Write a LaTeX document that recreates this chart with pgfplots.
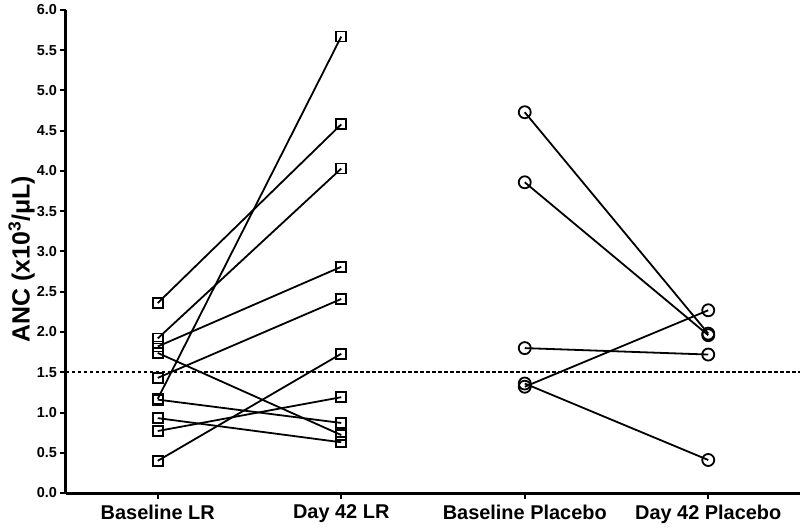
\documentclass[border=0pt]{standalone}
\usepackage{pgfplots}
\pgfplotsset{compat=1.18}
\usepackage{fontspec}
\setmainfont{Liberation Sans}
\begin{document}
\begin{tikzpicture}
\useasboundingbox (-66bp,-35bp) rectangle (734bp,493bp);
\begin{axis}[
  at={(0,0)}, anchor=south west,
  scale only axis, width=734bp, height=483bp,
  xmin=-0.5, xmax=3.5, ymin=0, ymax=6,
  axis x line=bottom, axis y line=left,
  axis line style={-, line width=3bp},
  xtick={0,1,2,3},
  xticklabels={Baseline LR, Day 42 LR, Baseline Placebo, Day 42 Placebo},
  ytick={0,0.5,1,1.5,2,2.5,3,3.5,4,4.5,5,5.5,6},
  yticklabel style={/pgf/number format/fixed, /pgf/number format/fixed zerofill, /pgf/number format/precision=1, /pgf/number format/assume math mode=true, font=\fontsize{14.5}{15}\selectfont\bfseries, xshift=0bp},
  xticklabel style={font=\fontsize{20}{21}\selectfont\bfseries, yshift=-3bp},
  tick align=outside, major tick length=5.5bp,
  tick style={black, line width=2bp},
  ylabel={ANC (x10\textsuperscript{3}/μL)},
  ylabel style={at={(axis description cs:-0.0606,0.484)}, anchor=center, font=\fontsize{25}{27}\selectfont\bfseries},
  clip=false,
  every axis plot/.append style={black, line width=1.8bp, mark options={solid, line width=1.8bp, fill=none}},
]
% dashed reference line
\addplot[black, line width=1.6bp, dash pattern=on 3.5bp off 2.5bp, mark=none] coordinates {(-0.5,1.5) (3.5,1.5)};
% LR group (squares)
\addplot[mark=square, mark size=5bp] coordinates {(0,2.36) (1,4.58)};
\addplot[mark=square, mark size=5bp] coordinates {(0,1.92) (1,4.03)};
\addplot[mark=square, mark size=5bp] coordinates {(0,1.82) (1,2.81)};
\addplot[mark=square, mark size=5bp] coordinates {(0,1.74) (1,0.72)};
\addplot[mark=square, mark size=5bp] coordinates {(0,1.43) (1,2.41)};
\addplot[mark=square, mark size=5bp] coordinates {(0,1.17) (1,5.67)};
\addplot[mark=square, mark size=5bp] coordinates {(0,1.16) (1,0.87)};
\addplot[mark=square, mark size=5bp] coordinates {(0,0.93) (1,0.63)};
\addplot[mark=square, mark size=5bp] coordinates {(0,0.77) (1,1.19)};
\addplot[mark=square, mark size=5bp] coordinates {(0,0.40) (1,1.73)};
% Placebo group (circles)
\addplot[mark=o, mark size=6bp] coordinates {(2,4.73) (3,1.98)};
\addplot[mark=o, mark size=6bp] coordinates {(2,3.86) (3,1.96)};
\addplot[mark=o, mark size=6bp] coordinates {(2,1.80) (3,1.72)};
\addplot[mark=o, mark size=6bp] coordinates {(2,1.32) (3,2.27)};
\addplot[mark=o, mark size=6bp] coordinates {(2,1.36) (3,0.41)};
\end{axis}
\end{tikzpicture}
\end{document}
